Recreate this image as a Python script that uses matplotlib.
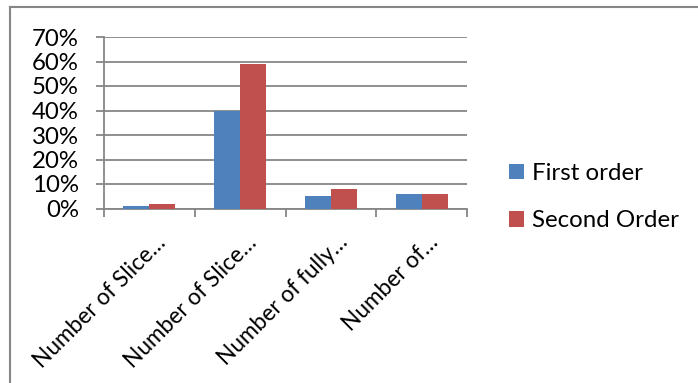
import numpy as np
import matplotlib.pyplot as plt
import matplotlib.transforms as mtransforms
from matplotlib.lines import Line2D

plt.rcParams['font.family'] = ['Lato', 'DejaVu Sans']

categories = ['Number of Slice…', 'Number of Slice…', 'Number of fully…', 'Number of…']
first_order = [1, 40, 5, 6]
second_order = [2, 59, 8, 6]
y_ticks = [0, 10, 20, 30, 40, 50, 60, 70]

blue = '#4F81BD'
red = '#C0504D'
grey = '#868686'
fs = 17.3

fig = plt.figure(figsize=(6.98, 3.83), dpi=100)
ax = fig.add_axes([104 / 698, 1 - 208.5 / 383, 363 / 698, 171.5 / 383])

x = np.arange(len(categories))
w = 0.286
ax.bar(x - w / 2, first_order, w, color=blue, label='First order', zorder=3)
ax.bar(x + w / 2, second_order, w, color=red, label='Second Order', zorder=3)

ax.set_xlim(-0.5, len(categories) - 0.5)
ax.set_ylim(0, 70)
ax.set_yticks(y_ticks)
ax.set_yticklabels([f'{v}%' for v in y_ticks])
ax.yaxis.grid(True, color=grey, linewidth=1.3, zorder=0)

# category boundaries carry the ticks, labels sit at the centres
ax.set_xticks(np.arange(len(categories) + 1) - 0.5)
ax.set_xticklabels([])
ax.set_xticks(x, minor=True)
ax.set_xticklabels(categories, minor=True, rotation=45, ha='right',
                   rotation_mode='anchor', fontsize=16.3)
ax.tick_params(axis='x', which='minor', length=0, pad=8)
ax.tick_params(axis='x', which='major', length=6, width=1.3, color=grey)
ax.tick_params(axis='y', length=6, width=1.3, color=grey, labelsize=fs, pad=12)

# nudge the slanted labels down and to the right
shift = mtransforms.ScaledTranslation(6 / 100, -12 / 100, fig.dpi_scale_trans)
for lab in ax.get_xticklabels(minor=True):
    lab.set_transform(lab.get_transform() + shift)

for s in ['top', 'right']:
    ax.spines[s].set_visible(False)
for s in ['left', 'bottom']:
    ax.spines[s].set_color(grey)
    ax.spines[s].set_linewidth(1.3)

# chart frame (top and left edges only show)
fig.add_artist(Line2D([9.5 / 698, 1], [1 - 6.5 / 383, 1 - 6.5 / 383], color=grey, linewidth=1.5))
fig.add_artist(Line2D([9.5 / 698, 9.5 / 698], [0, 1 - 6.5 / 383], color=grey, linewidth=1.5))

fig.legend(loc='center left', bbox_to_anchor=(509 / 698, 1 - 197 / 383), frameon=False,
           fontsize=fs, handlelength=0.62, handleheight=0.62, handletextpad=0.35,
           labelspacing=1.1, borderpad=0, borderaxespad=0)

fig.savefig('out.png', dpi=100, facecolor='w')
